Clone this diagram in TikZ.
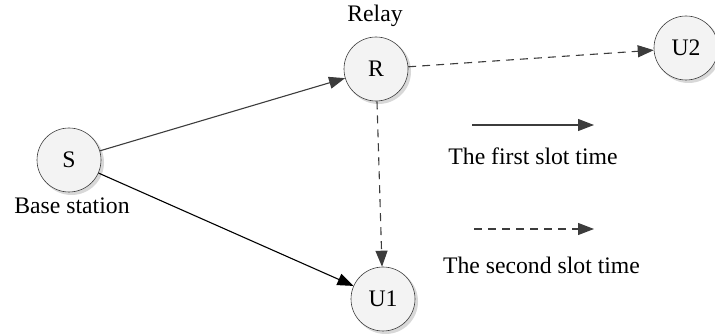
\documentclass[tikz,border=0pt]{standalone}
\usepackage{fontspec}
\setmainfont{Liberation Serif}
\newfontfamily\tnr{Liberation Serif}
\usetikzlibrary{arrows.meta}
\definecolor{edgegray}{HTML}{3C3C3C}
\definecolor{nodefill}{HTML}{F3F3F3}
\definecolor{shadowgray}{HTML}{D8D8D8}
\tikzset{
  usernode/.style={circle, draw=edgegray, line width=0.6pt, fill=nodefill, minimum size=64pt, inner sep=0pt, font=\tnr\fontsize{23.7}{28}\selectfont},
  lbl/.style={anchor=base, inner sep=0pt, font=\tnr\fontsize{23.7}{28}\selectfont},
  link/.style={draw=edgegray, line width=1.1pt, -{Triangle[length=16pt,width=12pt]}},
  dlink/.style={link, dash pattern=on 8pt off 6pt},
}
\begin{document}
\begin{tikzpicture}[x=1pt,y=-1pt]
\useasboundingbox (0,0) rectangle (715,336);
% shadows
\foreach \p in {(69,160),(376,69),(383,299),(686,48)}{
  \fill[shadowgray] \p ++(2.5,2.5) circle (32.5pt);
}
\node[usernode] (S) at (69,160) {S};
\node[usernode] (R) at (376,69) {R};
\node[usernode] (U1) at (383,299) {U1};
\node[usernode] (U2) at (686,48) {U2};

\node[lbl] (relay) at (375,22) {Relay};
\node[lbl] (bs) at (72,214) {Base station};
\node[lbl] (first) at (533,165) {The first slot time};
\node[lbl] (second) at (541.5,274) {The second slot time};

\coordinate (l1a) at (472,125);
\coordinate (l1b) at (594,125);
\coordinate (l2a) at (474,229);
\coordinate (l2b) at (594,229);

\draw[link] (S) -- (R);
\draw[link, draw=black] (S) -- (U1);
\draw[dlink] (R) -- (U2);
\draw[dlink] (R) -- (U1);
\draw[link] (l1a) -- (l1b);
\draw[dlink] (l2a) -- (l2b);
\end{tikzpicture}
\end{document}
